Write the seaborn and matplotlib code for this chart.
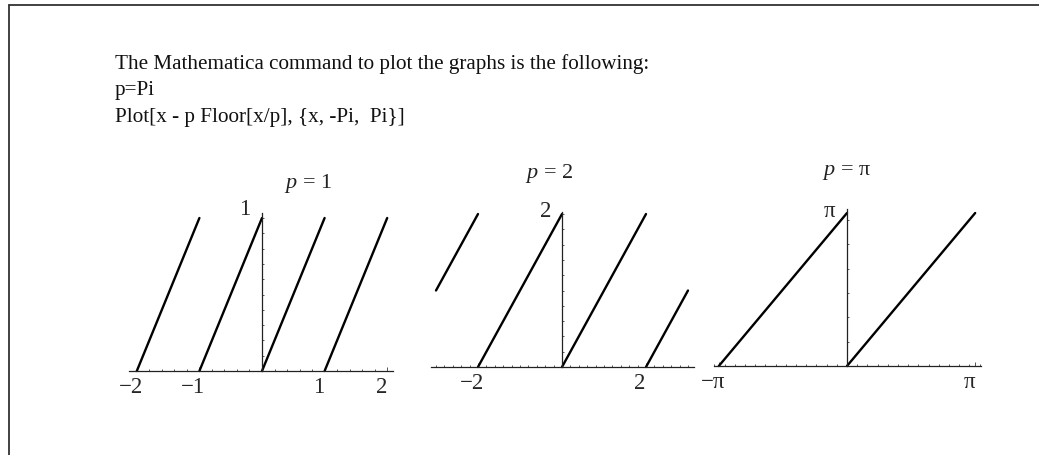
import numpy as np
import pandas as pd
import matplotlib
matplotlib.use("Agg")
import matplotlib.pyplot as plt
import matplotlib.transforms as mtransforms
from matplotlib.ticker import MultipleLocator
from matplotlib.lines import Line2D
import seaborn as sns

# ---- data: straight pieces of x - p*Floor[x/p] for three periods ----
p1_x0 = [-2.0, -1.0, 0.0, 1.0]
p1_x1 = [-1.0, 0.0, 1.0, 2.0]
p1_y0 = [0.0, 0.0, 0.0, 0.0]
p1_y1 = [1.0, 1.0, 1.0, 1.0]

p2_x0 = [-3.0, -2.0, 0.0, 2.0]
p2_x1 = [-2.0, 0.0, 2.0, 3.0]
p2_y0 = [1.0, 0.0, 0.0, 0.0]
p2_y1 = [2.0, 2.0, 2.0, 1.0]

p3_x0 = [-np.pi, 0.0]
p3_x1 = [0.0, np.pi]
p3_y0 = [0.0, 0.0]
p3_y1 = [np.pi, np.pi]

titles = ["1", "2", "π"]
xtick_vals = [[-2, -1, 1, 2], [-2, 2], [-np.pi, np.pi]]
xtick_text = [["−2", "−1", "1", "2"], ["−2", "2"], ["−π", "π"]]
ytick_vals = [1, 2, np.pi]
ytick_text = ["1", "2", "π"]

header = [
    "The Mathematica command to plot the graphs is the following:",
    "p=Pi",
    "Plot[x - p Floor[x/p], {x, -Pi,  Pi}]",
]

W, H, DPI = 1039, 456, 100

sns.set_style("white")
plt.rcParams["font.family"] = ["Liberation Serif", "DejaVu Serif"]
plt.rcParams["mathtext.fontset"] = "custom"
plt.rcParams["mathtext.rm"] = "Liberation Serif"
plt.rcParams["mathtext.it"] = "Liberation Serif:italic"

fig = plt.figure(figsize=(W / DPI, H / DPI), dpi=DPI)
fig.patch.set_facecolor("white")


def fx(px):
    return px / W


def fy(py):
    return 1 - py / H


# frame around the text block
fig.add_artist(Line2D([fx(9), fx(9)], [fy(6), fy(H + 5)], color="#333333", lw=1.3))
fig.add_artist(Line2D([fx(9), fx(W + 5)], [fy(6), fy(6)], color="#333333", lw=1.3))

for i, line in enumerate(header):
    fig.text(fx(115), fy(69 + 26.5 * i), line, fontsize=15.2, ha="left",
             va="baseline", color="#111111")


def segments(x0, x1, y0, y1):
    rows = []
    for k in range(len(x0)):
        rows.append({"seg": k, "x": x0[k], "y": y0[k]})
        rows.append({"seg": k, "x": x1[k], "y": y1[k]})
    return pd.DataFrame(rows)


panels = [
    dict(df=segments(p1_x0, p1_x1, p1_y0, p1_y1), zx=262, sx=62.6, zy=372, sy=153,
         xlim=(-2.13, 2.10), ylim=(-0.05, 1.03), xminor=0.2, yminor=0.1,
         title_px=(308, 184), ylab_px=(245, 210)),
    dict(df=segments(p2_x0, p2_x1, p2_y0, p2_y1), zx=562, sx=42.0, zy=368, sy=76.5,
         xlim=(-3.12, 3.14), ylim=(-0.05, 2.03), xminor=0.2, yminor=0.2,
         title_px=(549, 174), ylab_px=(546, 212)),
    dict(df=segments(p3_x0, p3_x1, p3_y0, p3_y1), zx=847, sx=40.8, zy=367, sy=48.7,
         xlim=(-3.26, 3.28), ylim=(-0.05, 3.22), xminor=0.25, yminor=0.5,
         title_px=(846, 173), ylab_px=(829, 212)),
]

for i, P in enumerate(panels):
    left = P["zx"] + P["xlim"][0] * P["sx"]
    right = P["zx"] + P["xlim"][1] * P["sx"]
    top = P["zy"] - P["ylim"][1] * P["sy"]
    bottom = P["zy"] - P["ylim"][0] * P["sy"]
    ax = fig.add_axes([fx(left), fy(bottom), (right - left) / W, (bottom - top) / H])
    ax.set_facecolor("none")

    sns.lineplot(data=P["df"], x="x", y="y", units="seg", estimator=None,
                 sort=False, color="black", lw=1.7, ax=ax, legend=False)

    ax.set_xlim(*P["xlim"])
    ax.set_ylim(*P["ylim"])
    ax.set_xlabel("")
    ax.set_ylabel("")

    for s in ["top", "right"]:
        ax.spines[s].set_visible(False)
    ax.spines["left"].set_position(("data", 0))
    ax.spines["bottom"].set_position(("data", 0))
    ax.spines["left"].set_bounds(0, P["ylim"][1])
    for s in ["left", "bottom"]:
        ax.spines[s].set_color("#222222")
        ax.spines[s].set_linewidth(0.9)

    ax.set_xticks(xtick_vals[i])
    ax.set_xticklabels(xtick_text[i], fontsize=16.5)
    ax.xaxis.set_minor_locator(MultipleLocator(P["xminor"]))
    ax.set_yticks([])
    ax.yaxis.set_minor_locator(MultipleLocator(P["yminor"]))
    ax.tick_params(axis="both", which="both", direction="in", color="#555555",
                   width=0.7, pad=3.5, bottom=True, left=True)
    ax.tick_params(axis="both", which="major", length=3.0)
    ax.tick_params(axis="both", which="minor", length=1.7)
    shift = mtransforms.ScaledTranslation(-6 / DPI, 0, fig.dpi_scale_trans)
    for lab in ax.get_xticklabels():
        lab.set_transform(lab.get_transform() + shift)

    fig.text(fx(P["ylab_px"][0]), fy(P["ylab_px"][1]), ytick_text[i], fontsize=16.5,
             ha="center", va="center")
    fig.text(fx(P["title_px"][0]), fy(P["title_px"][1]), "$p$ = " + titles[i],
             fontsize=16, ha="center", va="center", color="#222222")

fig.savefig("out.png", dpi=DPI, facecolor="white")
